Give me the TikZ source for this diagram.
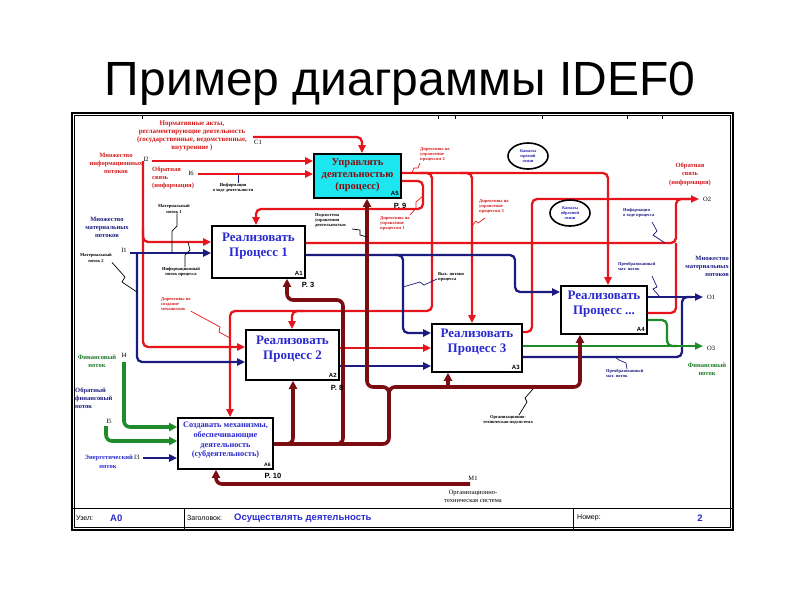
\documentclass[tikz,border=0pt]{standalone}
\usepackage{fontspec}
\setmainfont{Liberation Serif}
\setsansfont{Liberation Sans}
\usetikzlibrary{arrows.meta,shapes.geometric}
\definecolor{cR}{HTML}{E8141C}
\definecolor{cRt}{HTML}{D41A1A}
\definecolor{cM}{HTML}{7B0C12}
\definecolor{cB}{HTML}{1C1C80}
\definecolor{cBt}{HTML}{2626B0}
\definecolor{cG}{HTML}{1E8C28}
\definecolor{cGt}{HTML}{1E7A28}
\definecolor{cT}{HTML}{2A2AD0}
\definecolor{cCy}{HTML}{1CE6F0}
\definecolor{cA5}{HTML}{8A0A0A}
\begin{document}
\begin{tikzpicture}[x=1pt,y=-1pt,
  ctrl/.style={draw=cR,line width=2.3pt,rounded corners=5pt},
  mech/.style={draw=cM,line width=3.6pt,rounded corners=6pt},
  flow/.style={draw=cB,line width=2.3pt,rounded corners=5pt},
  fin/.style={draw=cG,line width=3.6pt,rounded corners=6pt},
  fintwo/.style={draw=cG,line width=2.3pt,rounded corners=5pt},
  tip/.style={-{Triangle[length=8pt,width=7pt]}},
  tipb/.style={-{Triangle[length=8pt,width=8pt]}},
  lead/.style={line width=0.7pt},
  box/.style={draw=black,line width=1.6pt,fill=white,inner sep=0pt},
  boxtext/.style={inner sep=0pt,align=center,text=cT,font=\bfseries\fontsize{13}{15}\selectfont},
  lab/.style={inner sep=0pt,align=center,font=\bfseries\fontsize{4.5}{5.4}\selectfont},
  labL/.style={lab,align=left},
  big/.style={inner sep=0pt,align=center,font=\bfseries\fontsize{6.5}{8}\selectfont},
  io/.style={inner sep=0pt,font=\fontsize{6.5}{6.5}\selectfont},
  num/.style={inner sep=0pt,font=\sffamily\bfseries\fontsize{6}{6}\selectfont},
  pg/.style={inner sep=0pt,font=\sffamily\bfseries\fontsize{7.5}{7.5}\selectfont},
  bar/.style={inner sep=0pt,font=\sffamily\fontsize{7}{7}\selectfont},
  barv/.style={inner sep=0pt,text=cT,font=\sffamily\bfseries\fontsize{9.5}{9.5}\selectfont},
  oval/.style={ellipse,draw=black,line width=1.6pt,inner sep=0pt,minimum width=40pt,minimum height=26pt,text=cBt,align=center,font=\bfseries\fontsize{4.4}{5.2}\selectfont}
]
\useasboundingbox (0,0) rectangle (800,600);
\fill[white] (0,0) rectangle (800,600);

% title
\node[anchor=base,inner sep=0pt,font=\sffamily\fontsize{48}{48}\selectfont] (title) at (400,95) {Пример диаграммы IDEF0};

% frame
\draw[line width=1.2pt] (72,113) rectangle (733,530);
\draw[line width=0.5pt] (74.5,115.5) rectangle (730.5,527.5);
\foreach \x in {142,438,455,542,627,662} \draw[line width=0.6pt] (\x,115.5) -- (\x,118.5);
\draw[line width=1.4pt] (72,508.5) -- (733,508.5);
\draw[line width=1pt] (184,508.5) -- (184,530);
\draw[line width=1pt] (573,508.5) -- (573,530);

% boxes
\node[box,fill=cCy,minimum width=87pt,minimum height=44pt] (A5) at (357.5,176) {};
\node[box,minimum width=93pt,minimum height=52pt] (A1) at (258.5,252) {};
\node[box,minimum width=93pt,minimum height=50pt] (A2) at (292.5,355) {};
\node[box,minimum width=90pt,minimum height=48pt] (A3) at (477,348) {};
\node[box,minimum width=86pt,minimum height=48pt] (A4) at (604,310) {};
\node[box,minimum width=95pt,minimum height=51pt] (A6) at (225.5,443.5) {};

% ---------- red control lines
\coordinate (C1) at (253,137);
\coordinate (I2) at (152,161);
\coordinate (I6) at (198,174);
\coordinate (O2) at (699,199);
\draw[ctrl,tip] (C1) -- (362,137) -- (A5.north -| 362,0);
\draw[ctrl,tip] (I2) -- (A5.west |- 0,161);
\draw[ctrl,tip] (143,161) -- (143,347) -- (A2.west |- 0,347);
\draw[ctrl,tip] (143,228) -- (143,242) -- (A1.west |- 0,242);
\draw[ctrl,tip] (I6) -- (A5.west |- 0,174);
\draw[ctrl,tip] (A5.east |- 0,173) -- (608,173) -- (A4.north -| 608,0);
\draw[ctrl,tip] (420,173) -- (432,173) -- (432,311) -- (230,311) -- (A6.north -| 230,0);
\draw[ctrl,tip] (305,311) -- (292,311) -- (A2.north -| 292,0);
\draw[ctrl,tip] (460,173) -- (472,173) -- (A3.north -| 472,0);
\draw[ctrl,tip] (A5.east |- 0,181) -- (423,181) -- (423,209) -- (256,209) -- (A1.north -| 256,0);
\draw[ctrl] (A1.east |- 0,243) -- (676,243) -- (676,199) -- (690,199);
\draw[ctrl,tip] (A3.east |- 0,332) -- (532,332) -- (532,199) -- (O2);
\draw[ctrl] (A4.east |- 0,313) -- (676,313) -- (676,243);
\draw[ctrl,tip] (A2.east |- 0,348) -- (A3.west |- 0,348);

% ---------- blue flows
\coordinate (I1) at (130,253);
\coordinate (I3) at (143,458);
\coordinate (O1) at (703,297);
\draw[flow,tip] (I1) -- (A1.west |- 0,253);
\draw[flow,tip] (137,253) -- (137,362) -- (A2.west |- 0,362);
\draw[flow,tip] (A1.east |- 0,255) -- (515,255) -- (515,292) -- (A4.west |- 0,292);
\draw[flow,tip] (395,255) -- (403,255) -- (403,333) -- (A3.west |- 0,333);
\draw[flow,tip] (A2.east |- 0,366) -- (A3.west |- 0,366);
\draw[flow] (A3.east |- 0,357) -- (682,357) -- (682,297) -- (692,297);
\draw[flow,tip] (A4.east |- 0,297) -- (O1);
\draw[flow,tip] (I3) -- (A6.west |- 0,458);

% ---------- green flows
\coordinate (I4) at (124,362);
\coordinate (I5) at (106,426);
\coordinate (O3) at (703,346);
\draw[fin,tipb] (I4) -- (124,427) -- (A6.west |- 0,427);
\draw[fin,tipb] (I5) -- (106,441) -- (A6.west |- 0,441);
\draw[fintwo,tip] (A3.east |- 0,346) -- (O3);
\draw[fintwo] (A4.east |- 0,320) -- (667,320) -- (667,346) -- (677,346);

% ---------- maroon mechanisms
\coordinate (M1) at (470,484);
\draw[mech,tipb] (M1) -- (216,484) -- (A6.south -| 216,0);
\draw[mech,tipb] (A6.east |- 0,444) -- (389,444) -- (389,387) -- (367,387) -- (A5.south -| 367,0);
\draw[mech,tipb] (389,400) -- (389,387) -- (580,387) -- (A4.south -| 580,0);
\draw[mech,tipb] (448,387) -- (A3.south -| 448,0);
\draw[mech,tipb] (280,444) -- (293,444) -- (A2.south -| 293,0);
\draw[mech,tipb] (330,444) -- (343,444) -- (343,300) -- (287,300) -- (A1.south -| 287,0);

% ---------- box texts
\node[boxtext] (t1) at ([yshift=6pt]A1.center) {Реализовать\\Процесс 1};
\node[boxtext] (t2) at ([yshift=6pt]A2.center) {Реализовать\\Процесс 2};
\node[boxtext] (t3) at ([yshift=6pt]A3.center) {Реализовать\\Процесс 3};
\node[boxtext] (t4) at ([yshift=6pt]A4.center) {Реализовать\\Процесс ...};
\node[inner sep=0pt,align=center,text=cA5,font=\bfseries\fontsize{10.5}{12}\selectfont] (t5) at ([yshift=1pt]A5.center) {Управлять\\деятельностью\\(процесс)};
\node[boxtext,font=\bfseries\fontsize{8.3}{9.6}\selectfont] (t6) at ([yshift=3pt]A6.center) {Создавать механизмы,\\обеспечивающие\\деятельность\\(субдеятельность)};
\node[num,anchor=south east] (n1) at ([shift={(-3pt,3pt)}]A1.south east) {A1};
\node[num,anchor=south east] (n2) at ([shift={(-3pt,3pt)}]A2.south east) {A2};
\node[num,anchor=south east] (n3) at ([shift={(-3pt,3pt)}]A3.south east) {A3};
\node[num,anchor=south east] (n4) at ([shift={(-3pt,3pt)}]A4.south east) {A4};
\node[num,anchor=south east] (n5) at ([shift={(-3pt,3pt)}]A5.south east) {A5};
\node[num,anchor=south east,font=\sffamily\bfseries\fontsize{5}{5}\selectfont] (n6) at ([shift={(-3pt,3pt)}]A6.south east) {A6};
\node[pg] (p3) at (308,285) {P. 3};
\node[pg] (p8) at (337,388) {P. 8};
\node[pg] (p9) at (400,206) {P. 9};
\node[pg] (p10) at (273,476) {P. 10};

% ---------- ovals
\node[oval] (E1) at (528,156) {Каналы\\прямой\\связи};
\node[oval] (E2) at (570,213) {Каналы\\обратной\\связи};

% ---------- labels, left / top
\node[big,text=cRt,font=\bfseries\fontsize{7}{8}\selectfont] (Lc1) at (192,136) {Нормативные акты,\\регламентирующие деятельность\\(государственные, ведомственные,\\внутренние )};
\node[io,anchor=west] (lc1) at (254,142) {C1};
\node[big,text=cRt] (Li2) at (116,163) {Множество\\информационных\\потоков};
\node[io] (li2) at (146,159) {I2};
\node[big,text=cRt,align=left,anchor=north west] (Li6) at (152,167) {Обратная\\связь\\(информация)};
\node[io] (li6) at (191,173) {I6};
\node[lab] (Linf) at (233,188) {Информация\\о ходе деятельности};
\draw[lead,cB] (Linf.north -| 238,0) -- (238,175);
\node[lab] (Lm1) at (174,209) {Материальный\\поток 1};
\draw[lead] (Lm1.south -| 177,0) -- (177,226) -- (172,231) -- (172,253);
\node[big,text=cB] (Li1) at (107,227) {Множество\\материальных\\потоков};
\node[io] (li1) at (124,250) {I1};
\node[lab] (Lm2) at (96,258) {Материальный\\поток 2};
\draw[lead] (Lm2.south east) -- (125,277) -- (122,282) -- (137,292);
\node[lab] (Lip) at (181,272) {Информационный\\поток процесса};
\draw[lead] (Lip.north -| 185,0) -- (185,255) -- (190,250) -- (188,242);
\node[labL,text=cRt,anchor=north west] (Ldm) at (161,297) {Директивы на\\создание\\механизмов};
\draw[lead,cR] (Ldm.south east) -- (220,327) -- (219,332) -- (230,338);
\node[big,text=cGt] (Li4) at (97,361) {Финансовый\\поток};
\node[io] (li4) at (124,355) {I4};
\node[big,text=cB,align=left,anchor=north west] (Li5) at (75,388) {Обратный\\финансовый\\поток};
\node[io] (li5) at (109,421) {I5};
\node[big,text=cT,anchor=east] (Li3) at (133,458) {Энергетический};
\node[big,text=cT] (Li3b) at (108,467) {поток};
\node[io,anchor=west] (li3) at (134,457) {I3};

% ---------- labels, middle
\node[labL,anchor=north west] (Lpu) at (315,213) {Подсистема\\управления\\деятельностью};
\draw[lead] (352,229) -- (360,230) -- (360,235) -- (367,237);
\node[labL,text=cRt,anchor=north west] (Ld1) at (380,216) {Директивы на\\управление\\процессом 1};
\draw[lead,cR] (410,215) -- (416,208) -- (416,202) -- (423,196);
\node[labL,text=cRt,anchor=north west] (Ld2) at (420,147) {Директивы на\\управление\\процессом 2};
\draw[lead,cR] (420,163) -- (418,168) -- (414,168) -- (412,173);
\node[labL,text=cRt,anchor=north west] (Ld3) at (479,199) {Директивы на\\управление\\процессом 3};
\draw[lead,cR] (485,218) -- (478,223) -- (476,221) -- (472,226);
\node[labL,anchor=north west] (Lvp) at (438,272) {Вых. потоки\\процесса};
\draw[lead,cB] (437,279) -- (424,285) -- (420,282) -- (403,287);
\node[lab] (Lots) at (508,420) {Организационно-\\техническая подсистема};
\draw[lead] (519,415) -- (527,402) -- (525,398) -- (533,389);
\node[io] (lm1) at (473,478) {M1};
\node[big,font=\fontsize{6.5}{8}\selectfont] (Lm1s) at (473,496) {Организационно-\\техническая система};

% ---------- labels, right
\node[big,text=cRt,font=\bfseries\fontsize{6.5}{8.5}\selectfont] (Lo2) at (690,174) {Обратная\\связь\\(информация)};
\node[io,anchor=west] (lo2) at (703,199) {O2};
\node[labL,text=cB,anchor=north west] (Lih) at (623,208) {Информация\\о ходе процесса};
\draw[lead,cB] (652,222) -- (657,231) -- (653,235) -- (665,243);
\node[labL,text=cB,anchor=north west] (Lpm1) at (618,262) {Преобразованный\\мат. поток};
\draw[lead,cB] (652,276) -- (657,287) -- (653,289) -- (660,297);
\node[big,text=cB,align=right,anchor=north east] (Lo1) at (729,256) {Множество\\материальных\\потоков};
\node[io,anchor=west] (lo1) at (707,297) {O1};
\node[io,anchor=west] (lo3) at (707,348) {O3};
\node[big,text=cGt] (Lfin) at (707,369) {Финансовый\\поток};
\node[labL,text=cB,anchor=north west] (Lpm2) at (606,369) {Преобразованный\\мат. поток};
\draw[lead,cB] (627,369) -- (626,363) -- (619,360) -- (615,357);

% ---------- bottom bar
\node[bar,anchor=west] (uz) at (76,518) {Узел:};
\node[barv,anchor=west] (a0) at (110,518) {A0};
\node[bar,anchor=west] (zg) at (187,518) {Заголовок:};
\node[barv,anchor=west] (od) at (234,518) {Осуществлять деятельность};
\node[bar,anchor=west] (nm) at (577,518) {Номер:};
\node[barv] (nn) at (700,518) {2};
\end{tikzpicture}
\end{document}
